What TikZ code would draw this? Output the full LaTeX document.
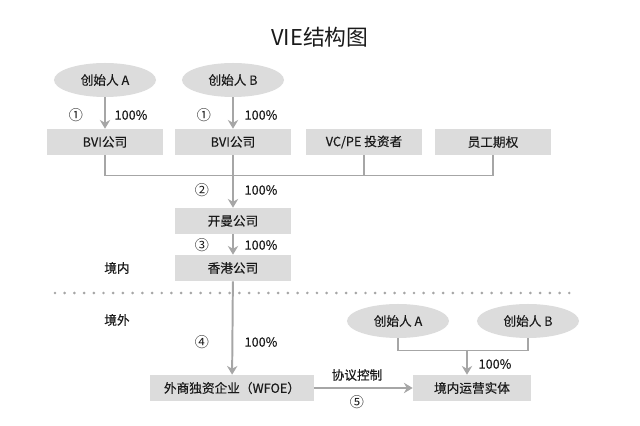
\documentclass[tikz,border=0pt]{standalone}
\usepackage{fontspec}
\setmainfont[FakeBold=0.3]{Noto Sans CJK SC}
\newfontfamily\titlefont{Noto Sans CJK SC}
\usetikzlibrary{arrows.meta, positioning, shapes.geometric}
\definecolor{boxgray}{HTML}{DCDCDC}
\definecolor{linegray}{HTML}{A6A6A6}
\definecolor{txtgray}{HTML}{1A1A1A}

\begin{document}
\begin{tikzpicture}[
    x=0.025cm, y=-0.025cm,
    font=\fontsize{9}{11}\selectfont, text=txtgray,
    company/.style={rectangle, fill=boxgray, minimum width=2.9cm, minimum height=0.65cm, inner sep=0pt},
    founder/.style={ellipse, fill=boxgray, minimum width=2.55cm, minimum height=0.85cm, inner sep=0pt},
    arrow/.style={-{Stealth[length=2.2mm, width=2.6mm]}, line width=1.4pt, draw=linegray},
    link/.style={line width=1pt, draw=linegray},
    share/.style={inner sep=1pt},
    step no/.style={inner sep=1pt, font=\titlefont\fontsize{10}{12}\selectfont}
]
\useasboundingbox (0,0) rectangle (640,426);

% Title
\node[font=\titlefont\fontsize{15.5}{18}\selectfont] (title) at (320,37) {VIE结构图};

% OFFSHORE
% Founders
\node[founder] (founderA) at (105,80) {创始人 A};
\node[founder] (founderB) at (233,80) {创始人 B};

% Shareholders of the Cayman company
\node[company] (bviA) at (105,142) {BVI公司};
\node[company] (bviB) at (233,142) {BVI公司};
\node[company] (vcpe) at (364,142) {VC/PE 投资者};
\node[company] (esop) at (493,142) {员工期权};

% Holding chain
\node[company] (cayman) at (233,221) {开曼公司};
\node[company] (hongkong) at (233,268) {香港公司};

% ONSHORE
\node[company, minimum width=4.075cm] (wfoe) at (232,388) {外商独资企业（WFOE）};
\node[company, minimum width=2.95cm] (opco) at (472,388) {境内运营实体};
\node[founder] (founderA2) at (398,321) {创始人 A};
\node[founder] (founderB2) at (528,321) {创始人 B};

% ARROWS
% Founders -> BVI
\draw[arrow] (founderA) -- (bviA);
\node[step no] at (76,115) {①};
\node[share] at (131,115) {100\%};
\draw[arrow] (founderB) -- (bviB);
\node[step no] at (204,115) {①};
\node[share] at (261,115) {100\%};

% Shareholders -> Cayman (common bus line)
\draw[link] (bviA.south) -- ++(0,20) -| (esop.south);
\draw[link] (vcpe.south) -- ++(0,20);
\draw[arrow] (bviB.south) -- (cayman.north);
\node[step no] at (202,190) {②};
\node[share] at (261,190) {100\%};

% Cayman -> Hong Kong
\draw[arrow] (cayman) -- (hongkong);
\node[step no] at (202,245) {③};
\node[share] at (261,245) {100\%};

% Hong Kong -> WFOE
\draw[arrow] (hongkong) -- (wfoe);
\node[step no] at (202,342) {④};
\node[share] at (261,342) {100\%};

% Contract control: WFOE -> operating entity
\draw[arrow] (wfoe) -- (opco);
\node[share] at (357,375) {协议控制};
\node[step no] at (357,402) {⑤};

% Onshore founders -> operating entity
\draw[link] (founderA2.south) -- ++(0,12) -| (founderB2.south);
\coordinate (merge) at (467,350);
\draw[arrow] (merge) -- (merge |- opco.north);
\node[share] at (495,364) {100\%};

% Border between the two sides
\node (inside) at (117,268) {境内};
\node (outside) at (117,320) {境外};
\draw[linegray, line width=2.1pt, line cap=round, dash pattern=on 0pt off 6.9pt] (55,293) -- (570,293);

\end{tikzpicture}
\end{document}
